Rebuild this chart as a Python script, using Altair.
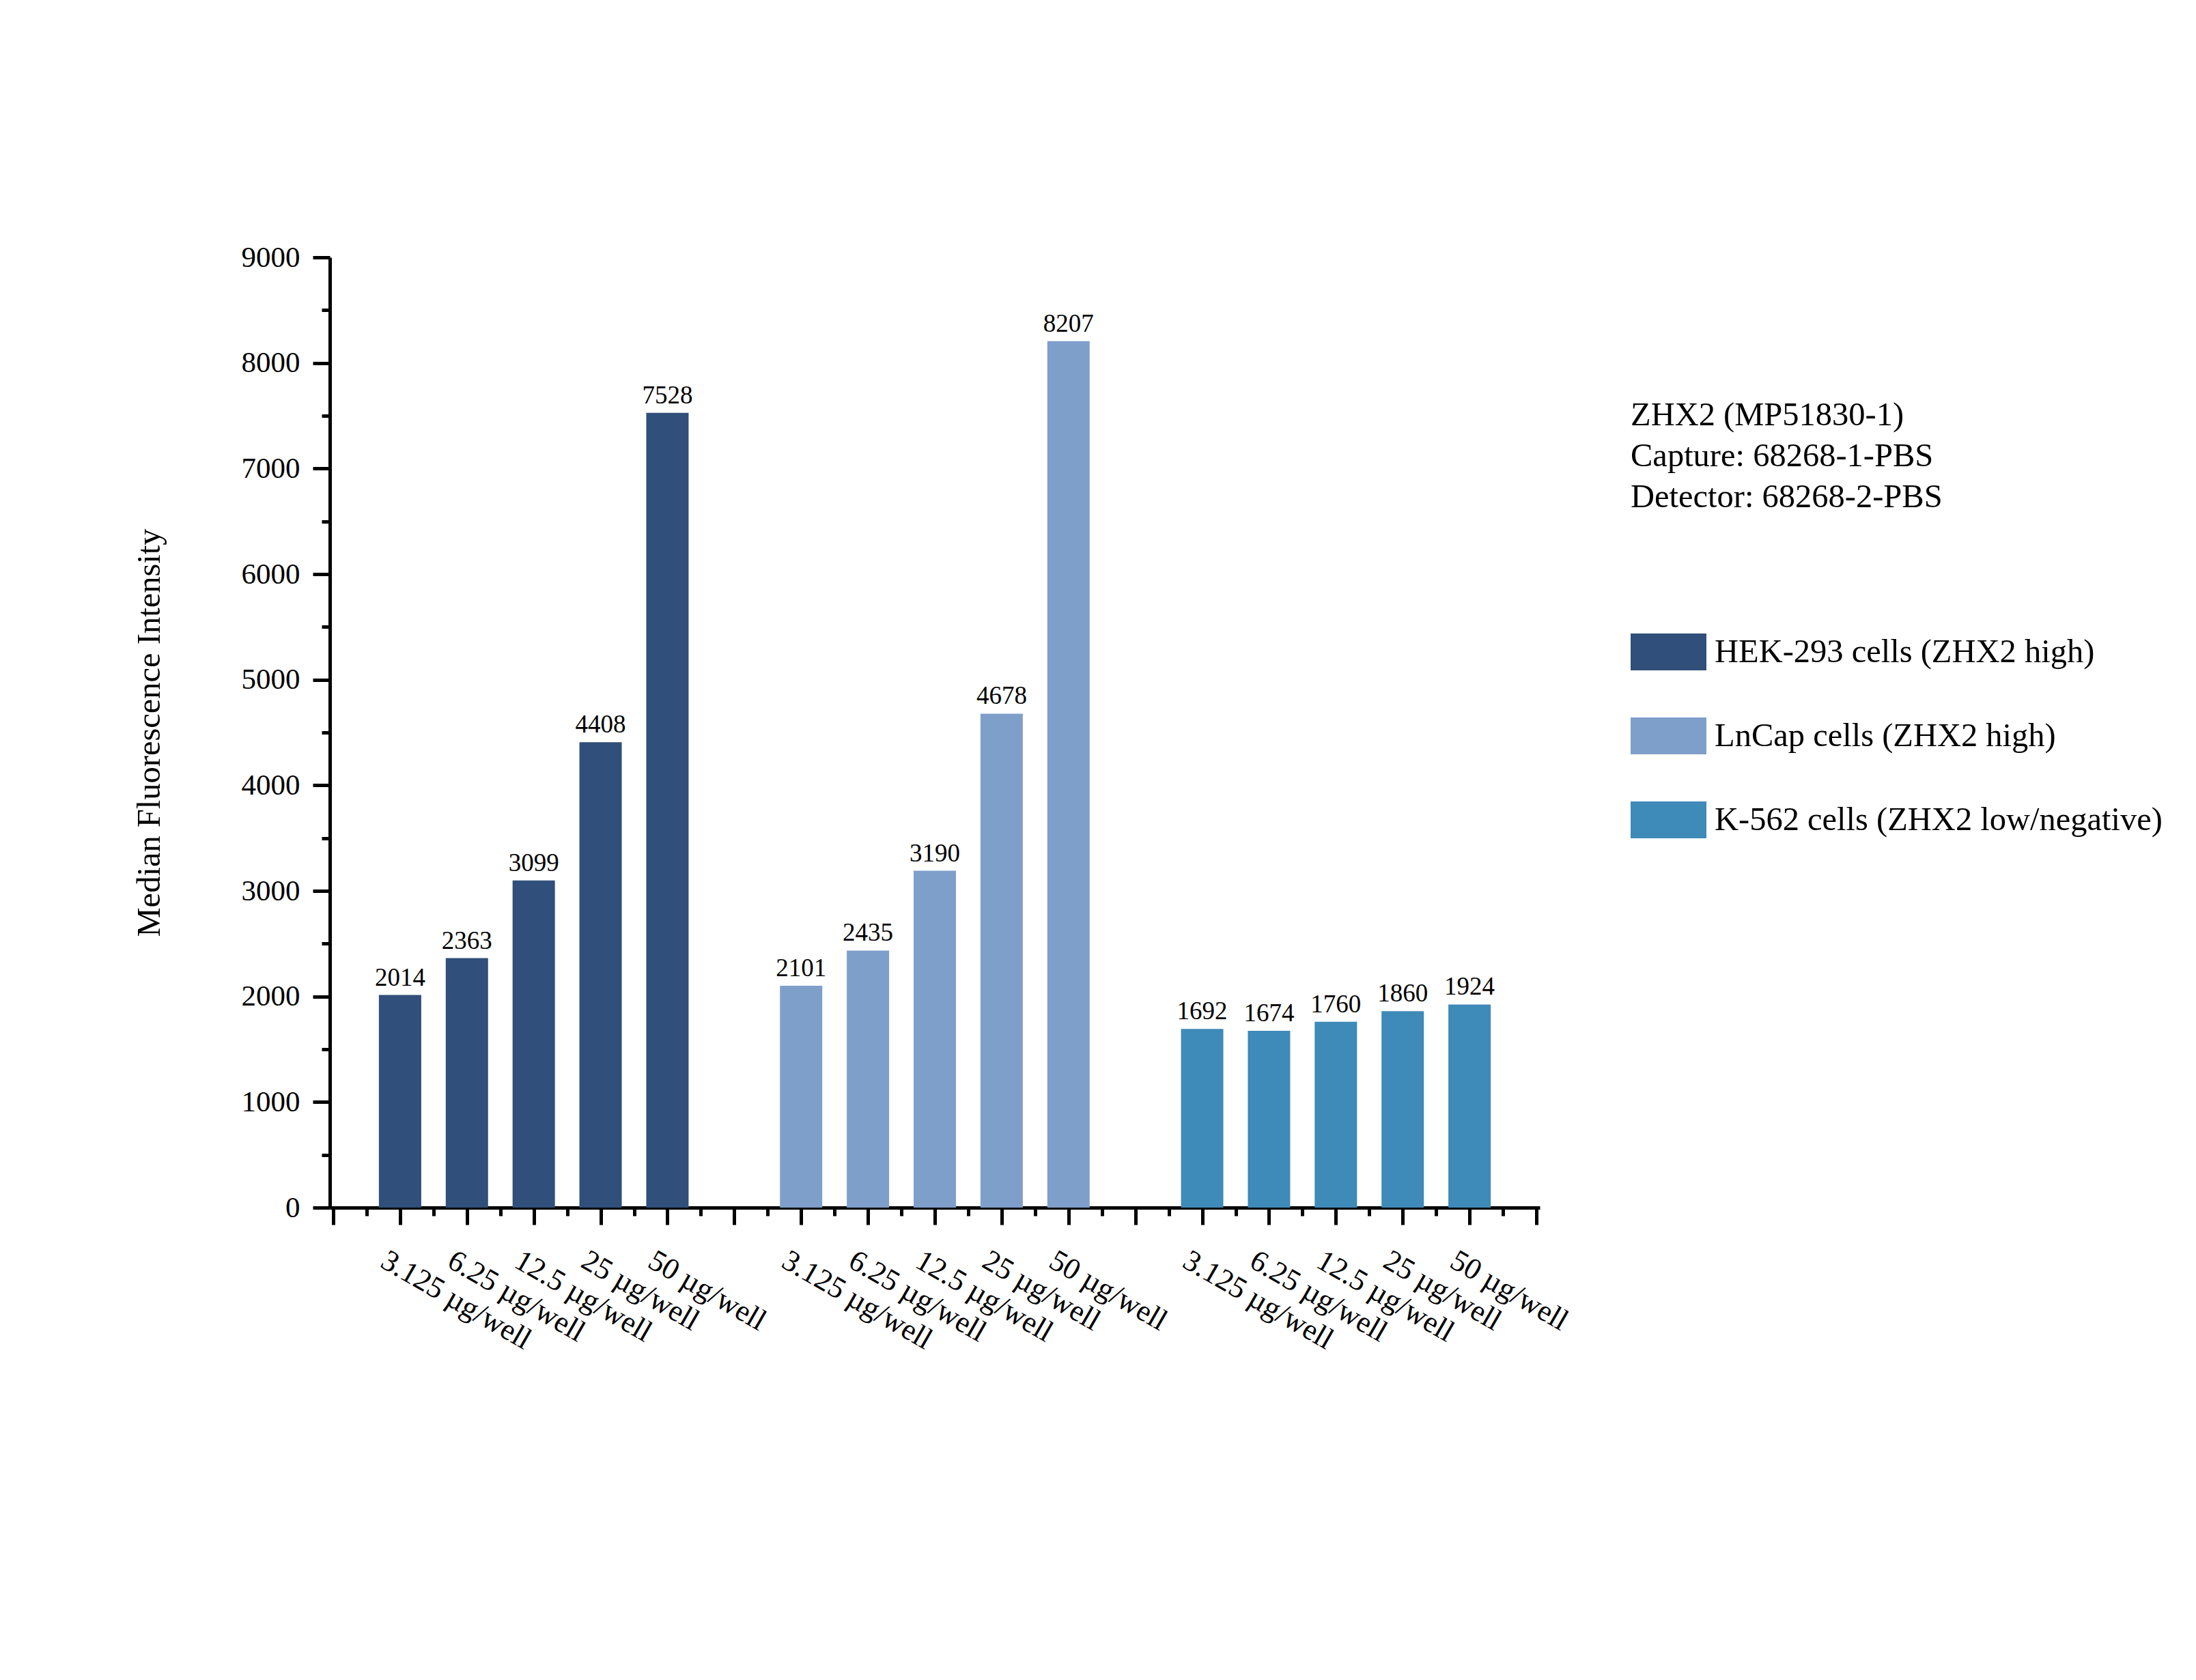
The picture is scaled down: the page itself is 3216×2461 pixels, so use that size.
import json
import altair as alt
import pandas as pd

groups = ["HEK-293 cells (ZHX2 high)", "LnCap cells (ZHX2 high)", "K-562 cells (ZHX2 low/negative)"]
doses = ["3.125 µg/well", "6.25 µg/well", "12.5 µg/well", "25 µg/well", "50 µg/well"]
hek = [2014, 2363, 3099, 4408, 7528]
lncap = [2101, 2435, 3190, 4678, 8207]
k562 = [1692, 1674, 1760, 1860, 1924]
colors = ["#304F7A", "#7F9FCB", "#3E8AB8"]
title_lines = ["ZHX2 (MP51830-1)", "Capture: 68268-1-PBS", "Detector: 68268-2-PBS"]
y_title = "Median Fluorescence Intensity"

FONT = "Liberation Serif"
step = len(doses) + 1
n_slots = len(groups) * step

rows = []
for gi, (g, vals) in enumerate(zip(groups, [hek, lncap, k562])):
    for di, (d, v) in enumerate(zip(doses, vals)):
        rows.append({"group": g, "dose": d, "value": v, "slot": gi * step + di + 1})
df = pd.DataFrame(rows)

label_expr = (
    f"(datum.value % {step} == 0) ? '' : "
    f"{json.dumps(doses)}[(datum.value % {step}) - 1]"
)

xscale = alt.Scale(domain=[0, n_slots], nice=False, zero=False)
yscale = alt.Scale(domain=[0, 9000], nice=False)

x_major = alt.Axis(
    orient="bottom", values=list(range(n_slots + 1)), tickSize=25, tickWidth=5,
    domainWidth=5, domainColor="black", tickColor="black", labelExpr=label_expr,
    labelAngle=30, labelAlign="left", labelBaseline="top", labelFont=FONT,
    labelFontSize=44, labelColor="black", labelPadding=30, labelOffset=-14,
    labelOverlap=False, labelBound=False, labelFlush=False, grid=False, title=None,
    labelLimit=1000,
)
x_minor = alt.Axis(
    orient="bottom", values=[i + 0.5 for i in range(n_slots)], tickSize=12, tickWidth=5,
    tickColor="black", labels=False, domain=False, grid=False, title=None,
)
y_major = alt.Axis(
    orient="left", values=list(range(0, 9001, 1000)), format="d", tickSize=25, tickWidth=5,
    domainWidth=5, domainColor="black", tickColor="black", labelFont=FONT,
    labelFontSize=43, labelColor="black", labelPadding=19, grid=False,
    title=y_title, titleFont=FONT, titleFontSize=48.5, titleFontWeight="normal",
    titleColor="black", titlePadding=110, labelFlush=False,
)
y_minor = alt.Axis(
    orient="left", values=list(range(500, 9000, 1000)), tickSize=12, tickWidth=5,
    tickColor="black", labels=False, domain=False, grid=False, title=None,
)

legend = alt.Legend(
    orient="none", legendX=1905, legendY=208, title=title_lines, titleFont=FONT,
    titleFontSize=48.5, titleFontWeight="normal", titleColor="black", titleLineHeight=60,
    titlePadding=146, titleLimit=2000, labelFont=FONT, labelFontSize=48.5,
    labelColor="black", labelLimit=2000, symbolType="M-1,-0.485L1,-0.485L1,0.485L-1,0.485Z",
    symbolSize=12321, symbolStrokeWidth=0, symbolOpacity=1, labelOffset=12, rowPadding=40,
)

bars = alt.Chart(df).mark_bar(size=62).encode(
    x=alt.X("slot:Q", scale=xscale, axis=x_major),
    y=alt.Y("value:Q", scale=yscale, axis=y_major),
    color=alt.Color("group:N", scale=alt.Scale(domain=groups, range=colors), legend=legend),
)
labels = alt.Chart(df).mark_text(
    baseline="bottom", dy=-6, fontSize=37, font=FONT, color="black"
).encode(
    x=alt.X("slot:Q", scale=xscale, axis=x_minor),
    y=alt.Y("value:Q", scale=yscale, axis=y_minor),
    text=alt.Text("value:Q"),
)

chart = alt.layer(bars, labels).resolve_axis(x="independent", y="independent").properties(
    width=1772, height=1392,
    autosize=alt.AutoSizeParams(type="none"),
    padding={"left": 475, "top": 369, "right": 943, "bottom": 640},
    background="white",
).configure_view(stroke=None)

chart.save("out.html", embed_options={"renderer": "svg", "actions": False})
